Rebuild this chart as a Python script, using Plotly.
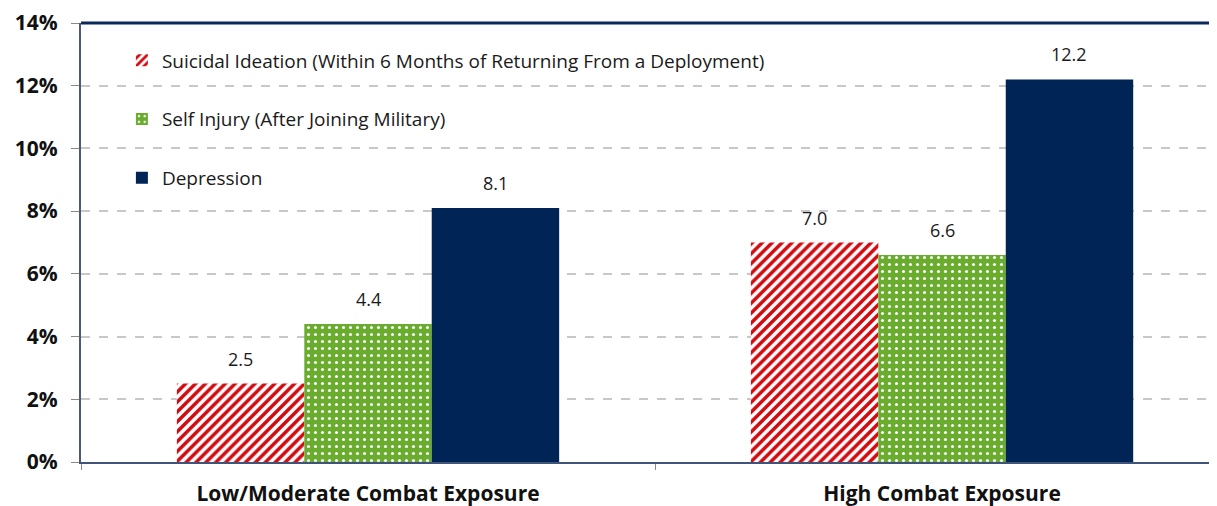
import plotly.graph_objects as go

categories = ["Low/Moderate Combat Exposure", "High Combat Exposure"]
suicidal = [2.5, 7.0]
self_injury = [4.4, 6.6]
depression = [8.1, 12.2]
series_names = [
    "Suicidal Ideation (Within 6 Months of Returning From a Deployment)",
    "Self Injury (After Joining Military)",
    "Depression",
]
y_ticks = [0, 2, 4, 6, 8, 10, 12, 14]
y_tick_labels = ["0%", "2%", "4%", "6%", "8%", "10%", "12%", "14%"]

RED = "#d00a10"
GREEN = "#6aac2e"
NAVY = "#012456"
FONT = "Open Sans, sans-serif"

fig = go.Figure()
fig.add_bar(
    x=categories, y=suicidal, name=series_names[0], legendgroup="a",
    marker=dict(color=RED, line=dict(width=0),
                pattern=dict(shape="/", fgcolor=RED, bgcolor="white", fgopacity=1,
                             fillmode="replace", size=7, solidity=0.5)),
)
fig.add_bar(
    x=categories, y=self_injury, name=series_names[1], legendgroup="b",
    marker=dict(color=GREEN, line=dict(width=0),
                pattern=dict(shape=".", fgcolor="white", bgcolor=GREEN, fgopacity=1,
                             size=7, solidity=0.15)),
)
fig.add_bar(
    x=categories, y=depression, name=series_names[2], legendgroup="c",
    marker=dict(color=NAVY, line=dict(width=0)),
)

# value labels above bars
bar_px = 574 * (1 - 0.334) / 3
for offset, vals in zip([-1, 0, 1], [suicidal, self_injury, depression]):
    for cat, v in zip(categories, vals):
        fig.add_annotation(x=cat, y=v, text=f"{v:.1f}", showarrow=False,
                           xshift=offset * bar_px, yanchor="bottom", yshift=11,
                           font=dict(family=FONT, size=18, color="#1a1a1a"))

fig.update_layout(
    width=1209, height=498,
    margin=dict(l=73, r=0, t=15, b=44),
    paper_bgcolor="white", plot_bgcolor="white",
    barmode="group", bargap=0.334, bargroupgap=0,
    showlegend=True,
    legend=dict(x=0.036, y=0.958, xanchor="left", yanchor="top",
                bgcolor="rgba(0,0,0,0)", tracegroupgap=31,
                font=dict(family=FONT, size=19, color="#1a1a1a"),
                itemwidth=30),
    font=dict(family=FONT),
)
fig.update_xaxes(
    range=[-0.5, 1.479], automargin=False,
    showline=True, linecolor="#3e5478", linewidth=2, mirror=False,
    ticks="outside", tickson="boundaries", ticklen=6, tickcolor="#8a8a8a",
    ticklabelstandoff=12,
    tickfont=dict(family=FONT, size=21, color="#111111", weight="bold"),
    showgrid=False,
)
fig.update_yaxes(
    range=[0, 14], tickvals=y_ticks, ticktext=y_tick_labels, automargin=False,
    showline=True, linecolor="#4a5a78", linewidth=2,
    ticks="outside", ticklen=8, tickcolor="#8a8a8a",
    ticklabelstandoff=9,
    tickfont=dict(family=FONT, size=21, color="#111111", weight="bold"),
    showgrid=True, gridcolor="#c8c8c8", griddash="dash", gridwidth=1.5,
    zeroline=False,
)
fig.add_shape(type="line", xref="paper", yref="paper", x0=0, x1=1, y0=1, y1=1,
              line=dict(color="#0b2a5b", width=3))

fig.write_html("out.html")
